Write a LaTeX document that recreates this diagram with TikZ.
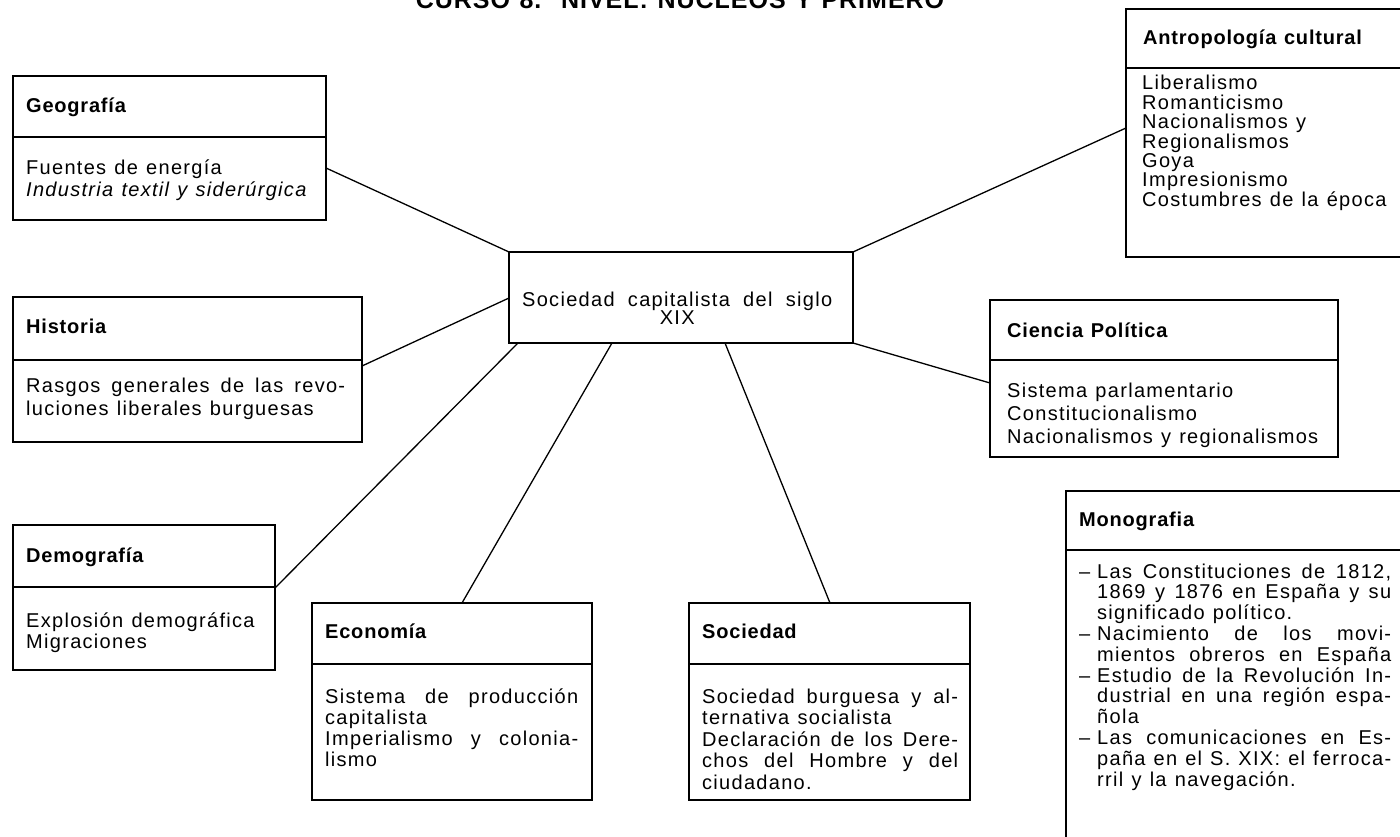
\documentclass[tikz,border=0pt]{standalone}
\usepackage{fontspec}
\setmainfont{Liberation Sans}[LetterSpace=6.5, WordSpace=1.2]
\newfontfamily\hdfont{Liberation Sans}[LetterSpace=4, WordSpace=1.2]
\usetikzlibrary{calc}
\newcommand\bodyf[1]{\fontsize{20}{#1}\selectfont\lineskiplimit=-100pt\relax}
\newcommand\jline[2]{\hbox to #1pt{#2}}
\newcommand\mitem[1]{\hbox{\hbox to 18pt{–\hfil}\hbox to 294pt{#1}}}
\newcommand\mcont[1]{\hbox{\hskip18pt\hbox to 294pt{#1}}}
\newcommand\mlast[1]{\hbox{\hskip18pt #1}}
\begin{document}
\begin{tikzpicture}[x=1pt,y=-1pt,
  box/.style={draw, line width=1.5pt, inner sep=0pt, outer sep=0pt, anchor=north west},
  divline/.style={line width=1.4pt},
  link/.style={line width=1.3pt},
  hd/.style={anchor=base west, inner sep=0pt, font=\hdfont\bfseries\fontsize{20}{22}\selectfont},
  tx/.style={anchor=base west, inner sep=0pt},
  ttl/.style={anchor=base, inner sep=0pt, font=\hdfont\bfseries\fontsize{25}{25}\selectfont}
]
\fill[white] (0,0) rectangle (1400,837);
\useasboundingbox (0,0) rectangle (1400,837);
\clip (0,0) rectangle (1400,837);

% title (cut off at the top edge)
\node[ttl] (title) at (680,9) {CURSO 8.º NIVEL: NÚCLEOS Y PRIMERO};

% boxes
\node[box, minimum width=313pt, minimum height=144pt] (geo) at (13,76) {};
\node[box, minimum width=349pt, minimum height=145pt] (his) at (13,297) {};
\node[box, minimum width=262pt, minimum height=145pt] (dem) at (13,525) {};
\node[box, minimum width=280pt, minimum height=197pt] (eco) at (312,603) {};
\node[box, minimum width=281pt, minimum height=197pt] (soc) at (689,603) {};
\node[box, minimum width=344pt, minimum height=91pt] (cen) at (509,252) {};
\node[box, minimum width=300pt, minimum height=248pt] (ant) at (1126,9) {};
\node[box, minimum width=348pt, minimum height=157pt] (cie) at (990,300) {};
\node[box, minimum width=360pt, minimum height=400pt] (mon) at (1066,491) {};

% dividers
\draw[divline] (geo.west |- 0,137) -- (geo.east |- 0,137);
\draw[divline] (his.west |- 0,360) -- (his.east |- 0,360);
\draw[divline] (dem.west |- 0,587) -- (dem.east |- 0,587);
\draw[divline] (eco.west |- 0,664) -- (eco.east |- 0,664);
\draw[divline] (soc.west |- 0,664) -- (soc.east |- 0,664);
\draw[divline] (ant.west |- 0,68) -- (ant.east |- 0,68);
\draw[divline] (cie.west |- 0,360) -- (cie.east |- 0,360);
\draw[divline] (mon.west |- 0,550) -- (mon.east |- 0,550);

% connectors
\draw[link] (geo.east |- 0,168) -- (cen.north west);
\draw[link] (his.east |- 0,366) -- (cen.west |- 0,298);
\draw[link] (dem.east |- 0,588) -- (cen.south -| 518,0);
\draw[link] (eco.north -| 462,0) -- (cen.south -| 612,0);
\draw[link] (soc.north -| 830,0) -- (cen.south -| 725,0);
\draw[link] (cen.north east) -- (ant.west |- 0,128);
\draw[link] (cen.south east) -- (cie.west |- 0,383);

% centre
\node[tx, font=\bodyf{18}] (cent) at (522,306) {\vtop{\hbox to 310pt{Sociedad capitalista del siglo}\hbox to 310pt{\hfil XIX\hfil}}};

% Geografía
\node[hd] (geoh) at (26,113) {Geografía};
\node[tx, font=\bodyf{22}] (geob) at (26,175) {\vtop{\hbox{Fuentes de energía}\hbox{\itshape Industria textil y siderúrgica}}};

% Historia
\node[hd] (hish) at (26,333) {Historia};
\node[tx, font=\bodyf{23}] (hisb) at (26,392) {\vtop{\jline{319}{Rasgos generales de las revo-}\hbox{luciones liberales burguesas}}};

% Demografía
\node[hd] (demh) at (26,562) {Demografía};
\node[tx, font=\bodyf{21}] (demb) at (26,627) {\vtop{\hbox{Explosión demográfica}\hbox{Migraciones}}};

% Economía
\node[hd] (ecoh) at (325,638) {Economía};
\node[tx, font=\bodyf{21}] (ecob) at (325,703) {\vtop{\jline{253}{Sistema de producción}\hbox{capitalista}\jline{253}{Imperialismo y colonia-}\hbox{lismo}}};

% Sociedad
\node[hd] (soch) at (702,638) {Sociedad};
\node[tx, font=\bodyf{21.5}] (socb) at (702,703) {\vtop{\jline{256}{Sociedad burguesa y al-}\hbox{ternativa socialista}\jline{256}{Declaración de los Dere-}\jline{256}{chos del Hombre y del}\hbox{ciudadano.}}};

% Antropología cultural
\node[hd] (anth) at (1143,45) {Antropología cultural};
\node[tx, font=\bodyf{19.4}] (antb) at (1142,90) {\vtop{\hbox{Liberalismo}\hbox{Romanticismo}\hbox{Nacionalismos y}\hbox{Regionalismos}\hbox{Goya}\hbox{Impresionismo}\hbox{Costumbres de la época}}};

% Ciencia Política
\node[hd] (cieh) at (1007,337) {Ciencia Política};
\node[tx, font=\bodyf{23}] (cieb) at (1007,397) {\vtop{\hbox{Sistema parlamentario}\hbox{Constitucionalismo}\hbox{Nacionalismos y regionalismos}}};

% Monografia
\node[hd] (monh) at (1079,526) {Monografia};
\node[tx, font=\bodyf{20.8}] (monb) at (1079,578) {\vtop{%
\mitem{Las Constituciones de 1812,}%
\mcont{1869 y 1876 en España y su}%
\mlast{significado político.}%
\mitem{Nacimiento de los movi-}%
\mcont{mientos obreros en España}%
\mitem{Estudio de la Revolución In-}%
\mcont{dustrial en una región espa-}%
\mlast{ñola}%
\mitem{Las comunicaciones en Es-}%
\mcont{paña en el S. XIX: el ferroca-}%
\mlast{rril y la navegación.}}};
\end{tikzpicture}
\end{document}
